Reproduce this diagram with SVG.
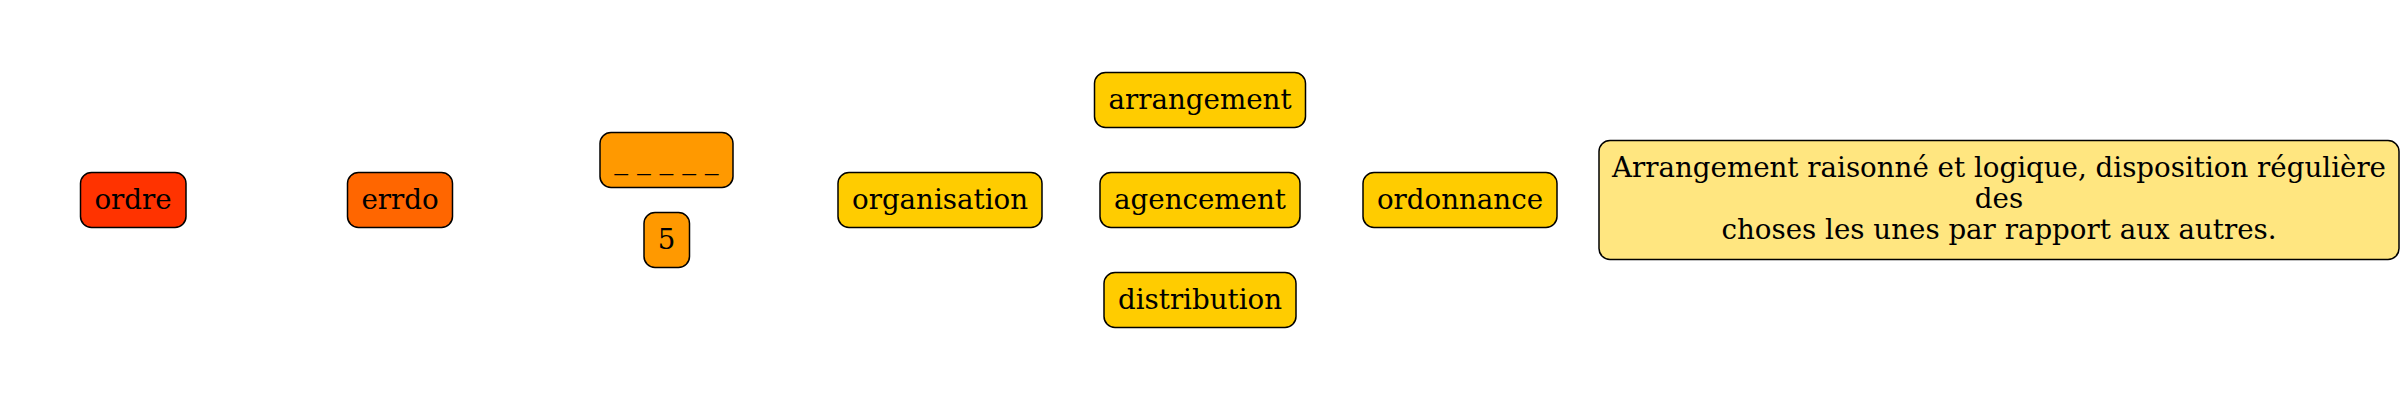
<svg xmlns="http://www.w3.org/2000/svg" width="2400" height="400" viewBox="0 0 2400 400">
<style>
.n rect{stroke:#000;stroke-width:1.5}
.n text{font-family:"DejaVu Serif","Liberation Serif",serif;font-size:27.7px;fill:#000;text-anchor:middle}
</style>
<rect width="2400" height="400" fill="#fff"/>
<g id="connectors"></g>
<g id="ordre" class="n"><rect x="80.5" y="172.5" width="105.5" height="55" rx="11" fill="#ff3300"/><text x="133" y="208.5">ordre</text></g>
<g id="errdo" class="n"><rect x="347.5" y="172.5" width="105" height="55" rx="11" fill="#ff6600"/><text x="400" y="208.5">errdo</text></g>
<g id="blank" class="n"><rect x="600" y="132.5" width="133" height="55" rx="11" fill="#ff9900"/><text x="666.5" y="168.5">_ _ _ _ _</text></g>
<g id="five" class="n"><rect x="644" y="212.5" width="45.5" height="55" rx="11" fill="#ff9900"/><text x="666.5" y="248.5">5</text></g>
<g id="organisation" class="n"><rect x="838" y="172.5" width="204" height="55" rx="11" fill="#ffcc00"/><text x="940" y="208.5">organisation</text></g>
<g id="arrangement" class="n"><rect x="1094.5" y="72.5" width="211" height="55" rx="11" fill="#ffcc00"/><text x="1200" y="108.5">arrangement</text></g>
<g id="agencement" class="n"><rect x="1100" y="172.5" width="200" height="55" rx="11" fill="#ffcc00"/><text x="1200" y="208.5">agencement</text></g>
<g id="distribution" class="n"><rect x="1104" y="272.5" width="192" height="55" rx="11" fill="#ffcc00"/><text x="1200" y="308.5">distribution</text></g>
<g id="ordonnance" class="n"><rect x="1363" y="172.5" width="194" height="55" rx="11" fill="#ffcc00"/><text x="1460" y="208.5">ordonnance</text></g>
<g id="definition" class="n"><rect x="1599" y="140.5" width="800" height="119" rx="11" fill="#ffe680"/><text x="1999" y="177"><tspan x="1999">Arrangement raisonné et logique, disposition régulière</tspan><tspan x="1999" dy="31">des</tspan><tspan x="1999" dy="31">choses les unes par rapport aux autres.</tspan></text></g>
</svg>
